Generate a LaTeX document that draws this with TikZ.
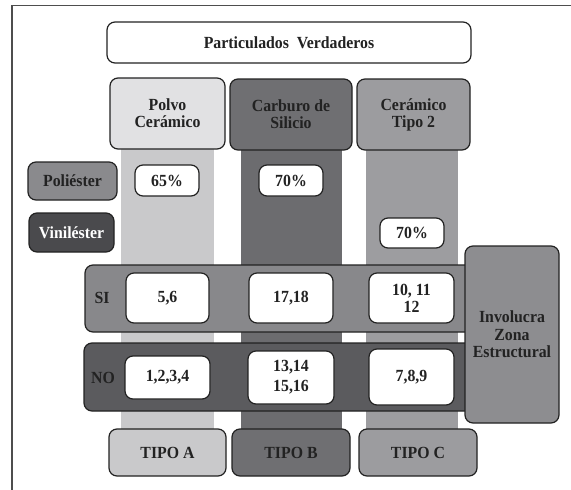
\documentclass[tikz,border=0pt]{standalone}
\usepackage{fontspec}
\setmainfont[FakeStretch=0.93]{Liberation Serif}
\definecolor{hdrA}{HTML}{E1E1E3}
\definecolor{strA}{HTML}{C9C9CB}
\definecolor{hdrB}{HTML}{6F6F72}
\definecolor{strB}{HTML}{6C6C6F}
\definecolor{hdrC}{HTML}{9C9C9F}
\definecolor{strC}{HTML}{9D9DA0}
\definecolor{polyc}{HTML}{8A8A8D}
\definecolor{vinilc}{HTML}{4A4A4D}
\definecolor{sibandc}{HTML}{88888B}
\definecolor{nobandc}{HTML}{5B5B5E}
\definecolor{involc}{HTML}{8D8D90}
\definecolor{txt}{HTML}{222222}
\definecolor{edge}{HTML}{222222}
\begin{document}
\begin{tikzpicture}[x=1pt,y=-1pt,
  box/.style={draw=edge, line width=1.2pt, rounded corners=8pt, align=center,
    font=\bfseries\fontsize{17}{17}\selectfont, text=txt, inner sep=0pt},
  stripe/.style={draw=none, inner sep=0pt},
  lbl/.style={font=\bfseries\fontsize{17}{17}\selectfont, text=txt, inner sep=0pt}]
\useasboundingbox (0,0) rectangle (571,490);
\fill[white] (0,0) rectangle (571,490);
% frame
\coordinate (f1) at (12,490);
\coordinate (f2) at (12,5.5);
\coordinate (f3) at (571,5.5);
\draw[edge!80, line width=1.1pt] (f1) -- (f2) -- (f3);
% stripes
\node[stripe, fill=strA, minimum width=93pt, minimum height=280pt] (sA) at (167.5,289) {};
\node[stripe, fill=strB, minimum width=101pt, minimum height=280pt] (sB) at (291.5,289) {};
\node[stripe, fill=strC, minimum width=92pt, minimum height=280pt] (sC) at (412,289) {};
% title
\node[box, fill=white, minimum width=364pt, minimum height=41pt] (title) at (289,42.5) {Particulados\ \ Verdaderos};
% headers
\node[box, fill=hdrA, minimum width=115pt, minimum height=71pt] (hA) at (167.5,113.5) {Polvo\\Cerámico};
\node[box, fill=hdrB, minimum width=122pt, minimum height=71pt] (hB) at (291,114.5) {Carburo de\\Silicio};
\node[box, fill=hdrC, minimum width=113pt, minimum height=71pt] (hC) at (413.5,114.5) {Cerámico\\Tipo 2};
% resins
\node[box, fill=polyc, minimum width=89pt, minimum height=38pt] (poly) at (72.5,181) {Poliéster};
\node[box, fill=vinilc, text=white, minimum width=85pt, minimum height=39pt] (vinil) at (71.5,232.5) {Viniléster};
\node[box, fill=white, minimum width=64pt, minimum height=31pt] (p65) at (167,180.5) {65\%};
\node[box, fill=white, minimum width=64pt, minimum height=31pt] (p70a) at (291,180.5) {70\%};
\node[box, fill=white, minimum width=64pt, minimum height=30pt] (p70b) at (412,233) {70\%};
% bands
\node[box, fill=sibandc, minimum width=395pt, minimum height=67pt] (si) at (282.5,298.5) {};
\node[box, fill=nobandc, minimum width=396pt, minimum height=68pt] (no) at (282,377) {};
\node[lbl] (silbl) at (102,298) {SI};
\node[lbl] (nolbl) at (103,378) {NO};
% SI boxes
\node[box, fill=white, minimum width=83pt, minimum height=50pt] (s56) at (167.5,298) {5,6};
\node[box, fill=white, minimum width=84pt, minimum height=50pt] (s1718) at (291,298) {17,18};
\node[box, fill=white, minimum width=85pt, minimum height=50pt] (s1012) at (411.5,298) {10, 11\\12};
% NO boxes
\node[box, fill=white, minimum width=85pt, minimum height=43pt] (n1234) at (167.5,377.5) {1,2,3,4};
\node[box, fill=white, minimum width=86pt, minimum height=53pt, font=\bfseries\fontsize{17}{20}\selectfont] (n1316) at (291,377.5) {13,14\\15,16};
\node[box, fill=white, minimum width=85pt, minimum height=56pt] (n789) at (411.5,377) {7,8,9};
% involucra
\node[box, fill=involc, minimum width=94pt, minimum height=177pt, font=\bfseries\fontsize{17}{17.5}\selectfont] (invol) at (512,334.5) {Involucra\\Zona\\Estructural};
% tipos
\node[box, fill=strA, minimum width=117pt, minimum height=47pt] (tA) at (167.5,452.5) {TIPO A};
\node[box, fill=hdrB, minimum width=118pt, minimum height=47pt] (tB) at (291,452.5) {TIPO B};
\node[box, fill=hdrC, minimum width=118pt, minimum height=47pt] (tC) at (418,452.5) {TIPO C};
\end{tikzpicture}
\end{document}
